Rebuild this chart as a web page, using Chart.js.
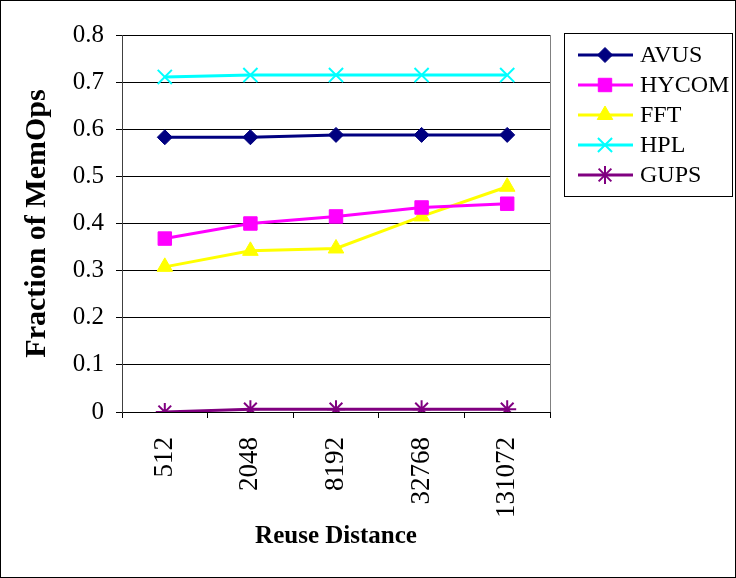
<!DOCTYPE html>
<html>
<head>
<meta charset="utf-8">
<script src="https://cdn.jsdelivr.net/npm/chart.js@4/dist/chart.umd.min.js"></script>
<style>
  html, body { margin: 0; padding: 0; background: #ffffff; }
  #wrap { width: 736px; height: 578px; position: relative; }
  canvas { display: block; }
</style>
</head>
<body>
<div id="wrap"><canvas id="c" width="736" height="578"></canvas></div>
<script>
// Reuse distances (x categories)
const reuseDistances = ['512', '2048', '8192', '32768', '131072'];

// Fraction of memory operations per benchmark
const avus  = [0.583, 0.583, 0.588, 0.588, 0.588];
const hycom = [0.368, 0.400, 0.415, 0.434, 0.442];
const fft   = [0.308, 0.342, 0.347, 0.415, 0.478];
const hpl   = [0.711, 0.715, 0.715, 0.715, 0.715];
const gups  = [0.000, 0.006, 0.006, 0.006, 0.006];

// Y axis ticks
const yTicks = [0, 0.1, 0.2, 0.3, 0.4, 0.5, 0.6, 0.7, 0.8];

const SERIF = '"Liberation Serif", "Times New Roman", serif';

function series(label, data, color, style, radius, width) {
  return {
    label, data,
    borderColor: color,
    backgroundColor: color,
    borderWidth: 3,
    pointStyle: style,
    pointRadius: radius,
    pointHoverRadius: radius,
    pointBorderWidth: width,
    pointBorderColor: color,
    pointBackgroundColor: color,
    tension: 0,
    fill: false
  };
}

const datasets = [
  series('AVUS',  avus,  '#000080', 'rectRot',  7.5, 1),
  series('HYCOM', hycom, '#FF00FF', 'rect',     9.5, 1),
  series('FFT',   fft,   '#FFFF00', 'triangle', 9,   1),
  series('HPL',   hpl,   '#00FFFF', 'crossRot', 10,  2),
  series('GUPS',  gups,  '#800080', 'star',     9,   2)
];

// Frame, plot border and boxed legend with line + marker samples
const framePlugin = {
  id: 'frame',
  beforeDraw(chart) {
    const ctx = chart.ctx;
    ctx.save();
    ctx.fillStyle = '#ffffff';
    ctx.fillRect(0, 0, chart.width, chart.height);
    ctx.restore();
  },
  afterDraw(chart) {
    const ctx = chart.ctx;
    const a = chart.chartArea;
    ctx.save();
    // right edge of plot area
    ctx.strokeStyle = '#808080';
    ctx.lineWidth = 1;
    ctx.beginPath();
    ctx.moveTo(Math.round(a.right) + 0.5, a.top);
    ctx.lineTo(Math.round(a.right) + 0.5, a.bottom);
    ctx.stroke();

    // outer border
    ctx.strokeStyle = '#000000';
    ctx.strokeRect(0.5, 0.5, chart.width - 1, chart.height - 1);

    // legend box
    const lx = 564, ly = 33, lw = 168, lh = 163;
    ctx.strokeStyle = '#000000';
    ctx.strokeRect(lx + 0.5, ly + 0.5, lw, lh);
    ctx.font = '24px ' + SERIF;
    ctx.textBaseline = 'middle';
    ctx.textAlign = 'left';
    chart.data.datasets.forEach((ds, i) => {
      const y = 55 + i * 30;
      ctx.strokeStyle = ds.borderColor;
      ctx.lineWidth = 3;
      ctx.beginPath();
      ctx.moveTo(578, y);
      ctx.lineTo(633, y);
      ctx.stroke();
      ctx.fillStyle = ds.pointBackgroundColor;
      ctx.strokeStyle = ds.pointBorderColor;
      ctx.lineWidth = ds.pointBorderWidth;
      Chart.helpers.drawPoint(ctx, {
        pointStyle: ds.pointStyle,
        radius: ds.pointRadius,
        rotation: 0,
        borderWidth: ds.pointBorderWidth
      }, 605, y);
      ctx.fillStyle = '#000000';
      ctx.fillText(ds.label, 640, y + 1);
    });
    ctx.restore();
  }
};

new Chart(document.getElementById('c'), {
  type: 'line',
  data: { labels: reuseDistances, datasets },
  options: {
    responsive: false,
    animation: false,
    devicePixelRatio: 1,
    layout: { padding: { left: 0, top: 35, right: 186, bottom: 0 } },
    plugins: {
      legend: { display: false },
      tooltip: { enabled: false }
    },
    scales: {
      x: {
        type: 'category',
        offset: true,
        afterFit(scale) { scale.height = 166; },
        grid: {
          offset: true,
          drawOnChartArea: false,
          drawTicks: true,
          tickLength: 6,
          color: '#000000'
        },
        border: { display: true, color: '#000000', width: 1 },
        ticks: {
          minRotation: 90,
          maxRotation: 90,
          autoSkip: false,
          padding: 19,
          color: '#000000',
          font: { family: SERIF, size: 27 }
        },
        title: {
          display: true,
          text: 'Reuse Distance',
          color: '#000000',
          font: { family: SERIF, size: 25, weight: 'bold' },
          padding: { top: 0, bottom: 26 }
        }
      },
      y: {
        min: 0,
        max: 0.8,
        afterFit(scale) { scale.width = 122; },
        afterBuildTicks(scale) { scale.ticks = yTicks.map(v => ({ value: v })); },
        grid: {
          color: '#000000',
          lineWidth: 1,
          drawTicks: true,
          tickLength: 6
        },
        border: { display: true, color: '#404040', width: 1 },
        ticks: {
          padding: 12,
          color: '#000000',
          font: { family: SERIF, size: 25 },
          callback: (v) => (v === 0 ? '0' : Number(v).toFixed(1))
        },
        title: {
          display: true,
          text: 'Fraction of MemOps',
          color: '#000000',
          font: { family: SERIF, size: 30, weight: 'bold' },
          padding: { top: 19, bottom: 0 }
        }
      }
    }
  },
  plugins: [framePlugin]
});
</script>
</body>
</html>
